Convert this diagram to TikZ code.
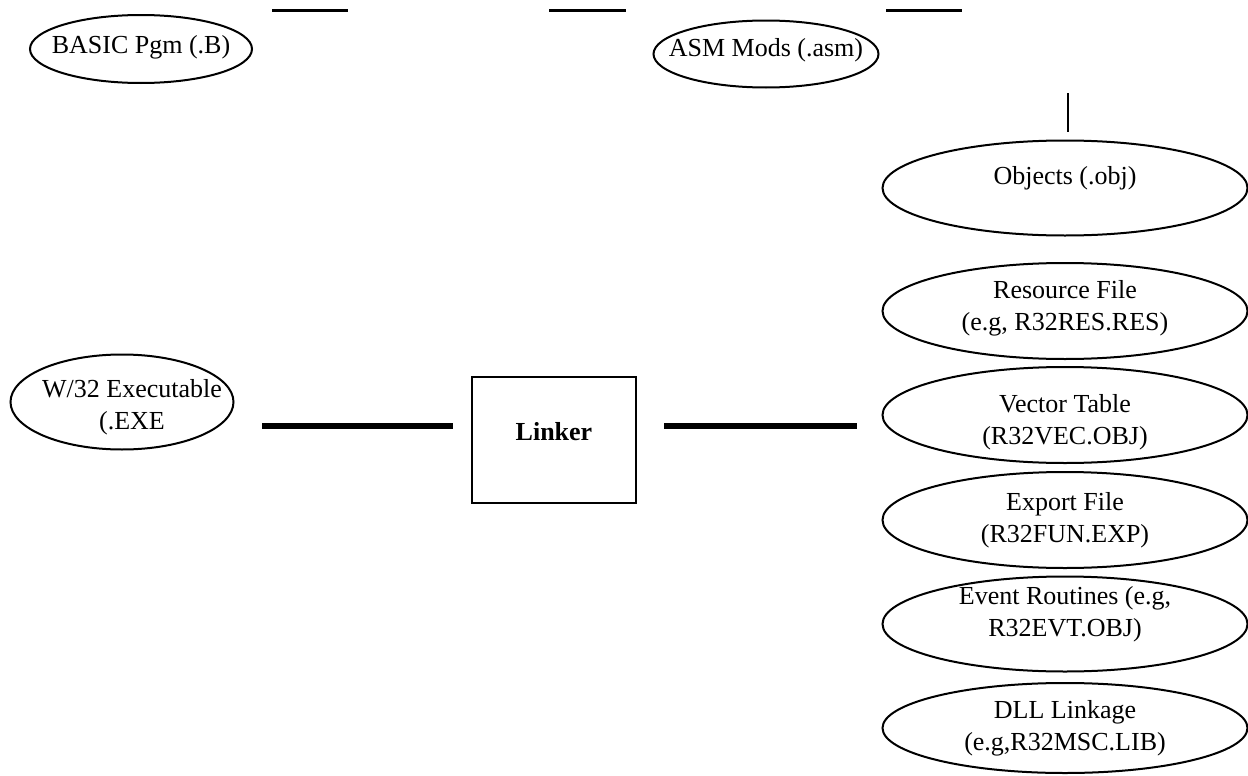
\documentclass[tikz,border=0pt]{standalone}
\usepackage{fontspec}
\setmainfont{Liberation Serif}
\usepackage{tikz}
\usetikzlibrary{shapes,positioning,calc}

\tikzset{
    filebox/.style={ellipse, draw, line width=1pt, inner sep=0pt},
    filetext/.style={align=center, inner sep=0pt},
    wideoval/.style={filebox, minimum width=182.5pt, minimum height=47.5pt},
    linkbox/.style={rectangle, draw, line width=0.8pt, minimum width=82pt, minimum height=63pt},
    thickline/.style={line width=2.6pt},
    topline/.style={line width=1.5pt}
}

\begin{document}
\begin{tikzpicture}[x=0.5pt, y=-0.5pt, font=\fontsize{13}{16}\selectfont]
            \useasboundingbox (0,0) rectangle (1248,776);
            % source files along the top
            \node[filebox, minimum width=111pt, minimum height=34pt,
                label={[filetext, yshift=1pt]center:BASIC Pgm (.B)}] (basic) at (141,49) {};
            \node[filebox, minimum width=112.5pt, minimum height=33.5pt,
                label={[filetext, yshift=2pt]center:ASM Mods (.asm)}] (asm) at (766,54) {};
            \coordinate (t1a) at (272,10); \coordinate (t1b) at (348,10);
            \coordinate (t2a) at (549,10); \coordinate (t2b) at (626,10);
            \coordinate (t3a) at (886,10); \coordinate (t3b) at (962,10);
            \draw[topline] (t1a) -- (t1b);
            \draw[topline] (t2a) -- (t2b);
            \draw[topline] (t3a) -- (t3b);

            % linker inputs
            \node[wideoval, label={[filetext, yshift=5pt]center:Objects (.obj)}] (obj) at (1065,188) {};
            \node[wideoval, minimum height=48pt,
                label={[filetext, yshift=1.5pt]center:Resource File\\(e.g, R32RES.RES)}] (res) at (1065,311) {};
            \node[wideoval, minimum height=48pt,
                label={[filetext, yshift=-3.5pt]center:Vector Table\\(R32VEC.OBJ)}] (vec) at (1065,415) {};
            \node[wideoval, minimum height=48pt,
                label={[filetext]center:Export File\\(R32FUN.EXP)}] (exp) at (1065,520) {};
            \node[wideoval, label={[filetext, yshift=5pt]center:Event Routines (e.g,\\R32EVT.OBJ)}] (evt) at (1065,624) {};
            \node[wideoval, minimum height=45pt,
                label={[filetext]center:DLL Linkage\\(e.g,R32MSC.LIB)}] (dll) at (1065,728) {};
            \coordinate (vtop) at (1068,93);
            \coordinate (vbot) at (1068,132);
            \draw[line width=1pt] (vtop) -- (vbot);

            % linker and output
            \node[linkbox, label={[yshift=4pt]center:\textbf{Linker}}] (linker) at (554,440) {};
            \node[filebox, minimum width=111.5pt, minimum height=47.5pt,
                label={[filetext, xshift=5pt, yshift=-2.5pt]center:W/32 Executable\\(.EXE}] (exe) at (122,402) {};
            \coordinate (l1a) at (262,426); \coordinate (l1b) at (453,426);
            \coordinate (l2a) at (664,426); \coordinate (l2b) at (857,426);
            \draw[thickline] (l1a) -- (l1b);
            \draw[thickline] (l2a) -- (l2b);
        \end{tikzpicture}
\end{document}
